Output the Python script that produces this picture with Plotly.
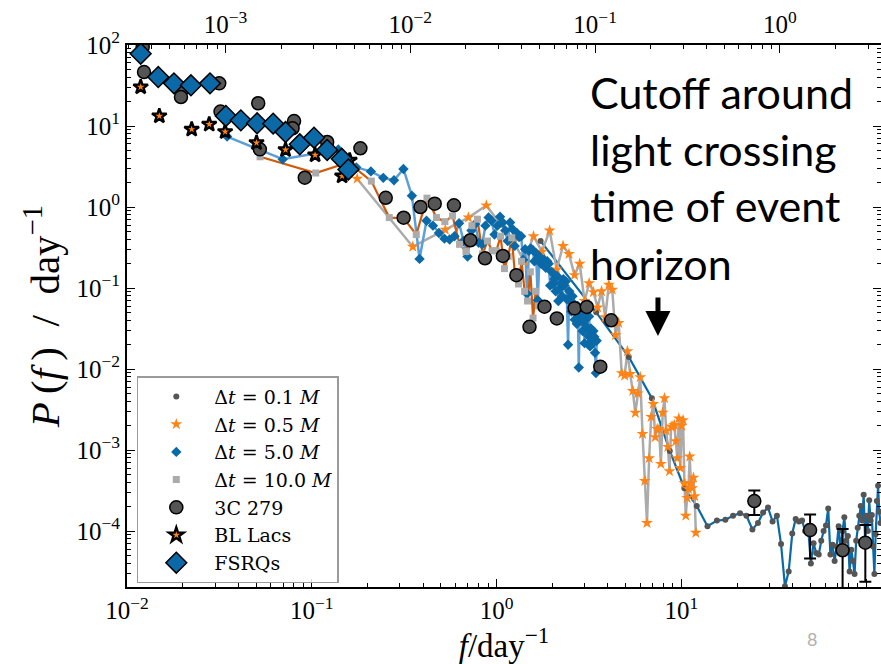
import plotly.graph_objects as go

# ---------------- simulated power spectra (f in day^-1, log10 of P) ----------------
f_dt01 = [1.73, 3.46, 5.19, 6.92, 8.65, 10.38, 12.11, 13.84, 15.57, 17.3, 19.03, 20.76,
          22.49, 24.22, 25.95, 27.68, 29.41, 31.14, 32.87, 34.6, 36.33, 38.06, 39.79, 41.52,
          43.25, 44.98, 46.71, 48.44, 50.17, 51.9, 53.63, 55.36, 57.09, 58.82, 60.55, 62.28,
          64.01, 65.74, 67.47, 69.2, 70.93, 72.66, 74.39, 76.12, 77.85, 79.58, 81.31, 83.04,
          84.77, 86.5, 88.23, 89.96, 91.69, 93.42, 95.15, 96.88, 98.61, 100.34, 102.07, 103.8,
          105.53, 107.26, 108.99, 110.72, 112.45, 114.18, 115.91, 117.64, 119.37]
logp_dt01 = [-0.42, -1.30, -1.85, -2.36, -3.01, -3.47, -3.69, -3.94, -3.87, -3.86, -3.81, -3.78,
             -3.81, -3.98, -3.90, -3.77, -3.71, -3.88, -3.81, -4.16, -4.68, -4.50, -4.03, -3.85,
             -3.88, -3.87, -4.00, -3.94, -4.40, -4.15, -4.27, -4.29, -4.12, -4.00, -3.93, -3.72,
             -4.29, -4.17, -4.37, -4.19, -3.94, -4.25, -4.00, -3.83, -4.12, -4.06, -4.50, -4.23,
             -4.37, -4.53, -4.12, -3.96, -3.81, -3.69, -3.87, -3.55, -4.10, -3.81, -4.00, -3.62,
             -3.87, -3.80, -4.19, -4.53, -4.04, -3.63, -3.44, -3.76, -3.90]

f_dt05 = [0.176, 0.352, 0.528, 0.704, 0.88, 1.056, 1.232, 1.408, 1.584, 1.76, 1.936, 2.112,
          2.288, 2.464, 2.64, 2.816, 2.992, 3.168, 3.344, 3.52, 3.696, 3.872, 4.048, 4.224,
          4.4, 4.576, 4.752, 4.928, 5.104, 5.28, 5.456, 5.632, 5.808, 5.984, 6.16, 6.336,
          6.512, 6.688, 6.864, 7.04, 7.216, 7.392, 7.568, 7.744, 7.92, 8.096, 8.272, 8.448,
          8.624, 8.8, 8.976, 9.152, 9.328, 9.504, 9.68, 9.856, 10.032, 10.208, 10.384, 10.56,
          10.736, 10.912, 11.088, 11.264, 11.44, 11.616, 11.792, 11.968]
logp_dt05 = [0.35, -0.49, -0.28, -0.13, 0.02, -0.22, -0.42, -0.67, -0.36, -0.55, -0.29, -0.77,
             -0.48, -0.58, -0.84, -0.70, -1.16, -0.94, -1.05, -1.24, -1.04, -1.36, -0.96, -1.02,
             -1.58, -1.43, -2.05, -2.08, -1.78, -2.06, -2.27, -2.54, -2.30, -2.10, -2.80, -3.38,
             -3.90, -3.10, -2.59, -2.43, -2.84, -2.74, -2.74, -3.17, -2.54, -2.36, -2.76, -2.96,
             -3.26, -2.71, -2.71, -2.69, -2.89, -3.10, -2.61, -3.22, -2.70, -2.63, -3.41, -3.81,
             -3.59, -3.48, -3.08, -3.41, -3.47, -3.34, -3.57, -4.02]

f_dt5 = [0.0348, 0.0696, 0.1044, 0.1392, 0.174, 0.2088, 0.2436, 0.2784, 0.3132, 0.348,
         0.3828, 0.4176, 0.4524, 0.4872, 0.522, 0.5568, 0.5916, 0.6264, 0.6612, 0.696,
         0.7308, 0.7656, 0.8004, 0.8352, 0.87, 0.9048, 0.9396, 0.9744, 1.0092, 1.044,
         1.0788, 1.1136, 1.1484, 1.1832, 1.218, 1.2528, 1.2876, 1.3224, 1.3572, 1.392,
         1.4268, 1.4616, 1.4964, 1.5312, 1.566, 1.6008, 1.6356, 1.6704, 1.7052, 1.74,
         1.7748, 1.8096, 1.8444, 1.8792, 1.914, 1.9488, 1.9836, 2.0184, 2.0532, 2.088,
         2.1228, 2.1576, 2.1924, 2.2272, 2.262, 2.2968, 2.3316, 2.3664, 2.4012, 2.436,
         2.4708, 2.5056, 2.5404, 2.5752, 2.61, 2.6448, 2.6796, 2.7144, 2.7492, 2.784,
         2.8188, 2.8536, 2.8884, 2.9232, 2.958, 2.9928, 3.0276, 3.0624, 3.0972, 3.132,
         3.1668, 3.2016, 3.2364, 3.2712, 3.306, 3.3408, 3.3756, 3.4104, 3.4452, 3.48]
logp_dt5 = [0.87, 0.59, 0.66, 0.71, 0.49, 0.44, 0.36, 0.33, 0.47, 0.14,
            -0.64, -0.17, -0.23, -0.32, -0.39, -0.40, -0.36, -0.20, -0.42, -0.61,
            -0.29, -0.21, -0.44, -0.46, -0.23, -0.13, -0.17, -0.34, -0.23, -0.12,
            -0.19, -0.29, -0.42, -0.19, -0.27, -0.48, -0.32, -0.37, -0.36, -0.65,
            -0.52, -1.07, -0.54, -0.51, -0.53, -0.67, -0.57, -1.15, -0.61, -0.70,
            -0.67, -0.65, -0.75, -0.67, -0.70, -0.97, -0.80, -0.95, -0.89, -1.04,
            -0.85, -1.16, -1.01, -0.94, -1.10, -0.89, -0.97, -0.92, -1.14, -1.70,
            -1.04, -1.16, -1.29, -1.10, -1.19, -1.39, -1.26, -1.44, -1.22, -1.98,
            -1.34, -1.40, -1.31, -1.53, -1.43, -1.68, -1.39, -1.29, -1.49, -1.59,
            -1.35, -1.72, -1.50, -1.65, -1.68, -1.53, -1.60, -1.80, -2.05, -1.65]

f_dt10 = [0.0525, 0.105, 0.1575, 0.21, 0.2625, 0.315, 0.3675, 0.42, 0.4725, 0.525,
          0.5775, 0.63, 0.6825, 0.735, 0.7875, 0.84, 0.8925, 0.945, 0.9975, 1.05,
          1.1025, 1.155, 1.2075, 1.26, 1.3125, 1.365, 1.4175, 1.47, 1.5225, 1.575,
          1.6275, 1.68]
logp_dt10 = [0.62, 0.42, 0.55, 0.32, -0.13, -0.14, -0.34, 0.11, -0.13, -0.18,
             -0.11, -0.46, -0.55, -0.23, -0.15, -0.58, -0.42, -0.54, -0.54, -0.36,
             -0.76, -0.61, -0.38, -0.86, -0.95, -0.67, -1.04, -1.16, -0.80, -1.37,
             -1.04, -1.22]

# ---------------- observed blazar spectra ----------------
f_3c279 = [0.01216, 0.01236, 0.02014, 0.01959, 0.03155, 0.03206, 0.05129, 0.05236, 0.08017,
           0.0787, 0.1211, 0.09162, 0.1832, 0.2512, 0.3141, 0.3873, 0.4624, 0.5875, 0.7211,
           0.865, 1.081, 1.279, 1.507, 1.816, 2.118, 2.642, 3.076, 4.169, 3.639]
p_3c279 = [94.5, 46.4, 28.9, 22.8, 33.6, 15.1, 19.1, 5.15, 11.5,
           9.37, 6.35, 2.30, 5.31, 1.30, 0.738, 1.00, 1.10, 1.05, 0.389,
           0.233, 0.249, 0.144, 0.0332, 0.0589, 0.0422, 0.0562, 0.0584, 0.0400, 0.0107]
# high-frequency 3C 279 points with their error ranges
f_3c279_err = [24.8, 49.7, 74.5, 98.9]
p_3c279_err = [2.35e-4, 1.03e-4, 5.8e-5, 7.2e-5]
p_3c279_hi = [3.18e-4, 1.60e-4, 1.06e-4, 1.19e-4]
p_3c279_lo = [1.58e-4, 4.6e-5, 1.0e-5, 2.37e-5]

f_bllac = [0.01186, 0.01496, 0.02239, 0.02786, 0.03396, 0.05023, 0.07211, 0.1042, 0.1459, 0.1603]
p_bllac = [30.3, 13.3, 9.10, 10.5, 8.50, 6.21, 5.09, 4.39, 2.41, 3.77]

f_fsrq = [0.01186, 0.01476, 0.01795, 0.02218, 0.02812, 0.03428, 0.0413, 0.05058, 0.0618,
          0.07211, 0.0861, 0.1028, 0.1211, 0.1452, 0.1578]
p_fsrq = [78.1, 40.2, 33.6, 31.8, 33.6, 13.3, 11.75, 10.8, 10.7,
          8.42, 5.95, 7.17, 5.06, 3.94, 2.91]

x_ticks = [0.01, 0.1, 1, 10, 100]
x_ticktext = ["10<sup>−2</sup>", "10<sup>−1</sup>", "10<sup>0</sup>", "10<sup>1</sup>", "10<sup>2</sup>"]
x2_ticks = [0.001, 0.01, 0.1, 1]
x2_ticktext = ["10<sup>−3</sup>", "10<sup>−2</sup>", "10<sup>−1</sup>", "10<sup>0</sup>"]
y_ticks = [1e-4, 1e-3, 1e-2, 1e-1, 1, 10, 100]
y_ticktext = ["10<sup>−4</sup>", "10<sup>−3</sup>", "10<sup>−2</sup>", "10<sup>−1</sup>",
              "10<sup>0</sup>", "10<sup>1</sup>", "10<sup>2</sup>"]

SERIF = "Liberation Serif"
GREY_DOT = "#555555"
ORANGE = "#ff8418"
BLUE = "#0a69a6"
LIGHT_BLUE = "#5b9fd6"
LIGHT_GREY = "#ababab"
RUST = "#d05a0a"


def pw(logs):
    return [10 ** v for v in logs]


fig = go.Figure()

# simulation curves: the connecting line and the markers are styled separately
sims = [
    (f_dt01, logp_dt01, "Δ<i>t</i> = 0.1 <i>M</i>", BLUE, 2.2,
     dict(symbol="circle", size=6, color=GREY_DOT)),
    (f_dt05, logp_dt05, "Δ<i>t</i> = 0.5 <i>M</i>", LIGHT_GREY, 2.5,
     dict(symbol="star", size=9, color=ORANGE)),
    (f_dt5, logp_dt5, "Δ<i>t</i> = 5.0 <i>M</i>", LIGHT_BLUE, 2.5,
     dict(symbol="diamond", size=8, color=BLUE)),
    (f_dt10, logp_dt10, "Δ<i>t</i> = 10.0 <i>M</i>", RUST, 2.2,
     dict(symbol="square", size=7, color=LIGHT_GREY)),
]
for f, lp, name, lcol, lw, mk in sims:
    fig.add_trace(go.Scatter(x=f, y=pw(lp), mode="lines", line=dict(color=lcol, width=lw),
                             showlegend=False, hoverinfo="skip"))
for f, lp, name, lcol, lw, mk in sims:
    fig.add_trace(go.Scatter(x=f, y=pw(lp), mode="markers", name=name,
                             marker=dict(line=dict(width=0), **mk)))

# observations
fig.add_trace(go.Scatter(
    x=f_3c279, y=p_3c279, mode="markers", name="3C 279",
    marker=dict(symbol="circle", size=13, color=GREY_DOT, line=dict(color="black", width=1.5))))
fig.add_trace(go.Scatter(
    x=f_3c279_err, y=p_3c279_err, mode="markers", showlegend=False,
    error_y=dict(type="data", symmetric=False,
                 array=[h - p for h, p in zip(p_3c279_hi, p_3c279_err)],
                 arrayminus=[p - l for l, p in zip(p_3c279_lo, p_3c279_err)],
                 color="black", thickness=2, width=6),
    marker=dict(symbol="circle", size=13, color=GREY_DOT, line=dict(color="black", width=1.5))))
fig.add_trace(go.Scatter(
    x=f_bllac, y=p_bllac, mode="markers", name="BL Lacs",
    marker=dict(symbol="star", size=11, color=ORANGE, line=dict(color="black", width=2.4))))
fig.add_trace(go.Scatter(
    x=f_fsrq, y=p_fsrq, mode="markers", name="FSRQs",
    marker=dict(symbol="diamond", size=16, color=BLUE, line=dict(color="black", width=1.5))))


def minor_vals(lo, hi):
    out = []
    for e in range(lo, hi):
        for m in range(2, 10):
            out.append(m * 10 ** e)
    return out


axis_common = dict(type="log", ticks="inside", ticklen=8, tickwidth=1, tickcolor="black",
                   showgrid=False, zeroline=False,
                   tickfont=dict(family=SERIF, size=25, color="black"))

Y_RANGE = [-4.69, 2]

fig.update_layout(
    width=881, height=664,
    margin=dict(l=127, r=0, t=45, b=77),
    paper_bgcolor="white", plot_bgcolor="white",
    font=dict(family=SERIF, color="black"),
    xaxis=dict(range=[-2, 2.08], tickvals=x_ticks, ticktext=x_ticktext,
               showline=True, linecolor="black", linewidth=2, mirror=False,
               minor=dict(ticks="inside", ticklen=4, tickcolor="black",
                          tickvals=minor_vals(-2, 3)),
               title=dict(text="<i>f</i>/day<sup>−1</sup>", font=dict(family=SERIF, size=33),
                          standoff=0),
               **axis_common),
    xaxis2=dict(overlaying="x", side="top", range=[-3.533, 0.547],
                tickvals=x2_ticks, ticktext=x2_ticktext,
                showline=True, linecolor="black", linewidth=2,
                minor=dict(ticks="inside", ticklen=4, tickcolor="black",
                           tickvals=minor_vals(-4, 1)),
                **axis_common),
    yaxis=dict(range=Y_RANGE, tickvals=y_ticks, ticktext=y_ticktext,
               showline=True, linecolor="black", linewidth=2, mirror=False,
               minor=dict(ticks="inside", ticklen=4, tickcolor="black",
                          tickvals=minor_vals(-5, 2)),
               title=dict(text="<i>P</i>\u2009(<i>f</i>\u2009)\u2002/\u2002day<sup>−1</sup>",
                          font=dict(family=SERIF, size=41), standoff=4),
               **axis_common),
    yaxis2=dict(overlaying="y", side="right", range=Y_RANGE, tickvals=y_ticks,
                showticklabels=False, showline=False,
                minor=dict(ticks="inside", ticklen=4, tickcolor="black",
                           tickvals=minor_vals(-5, 2)),
                **axis_common),
    legend=dict(x=0.013, y=0.389, xanchor="left", yanchor="top",
                bgcolor="rgba(255,255,255,0.85)", bordercolor="#9a9a9a", borderwidth=1.5,
                font=dict(family="DejaVu Serif", size=19, color="black"),
                itemsizing="trace", itemwidth=66, tracegroupgap=0),
)

# empty traces so the top and right axes are laid out
fig.add_trace(go.Scatter(x=[], y=[], xaxis="x2", yaxis="y", showlegend=False))
fig.add_trace(go.Scatter(x=[], y=[], xaxis="x", yaxis="y2", showlegend=False))

# annotation text about the high-frequency cutoff
note_lines = ["Cutoff around", "light crossing", "time of event", "horizon"]
note_y = [0.912, 0.808, 0.703, 0.596]
for txt, yy in zip(note_lines, note_y):
    fig.add_annotation(x=0.611, y=yy, xref="paper", yref="paper", xanchor="left",
                       yanchor="middle", text=txt, showarrow=False,
                       font=dict(family="Lato", size=43, color="black"))

fig.add_annotation(x=0.7042, y=0.463, xref="paper", yref="paper", text="",
                   showarrow=True, arrowhead=2, arrowsize=1, arrowwidth=5,
                   arrowcolor="black", ax=0, ay=-40)

fig.add_annotation(x=0.918, y=-0.12, xref="paper", yref="paper", text="8",
                   showarrow=False, font=dict(family="Lato", size=18, color="#b0b0b0"))

fig.write_html("out.html")
